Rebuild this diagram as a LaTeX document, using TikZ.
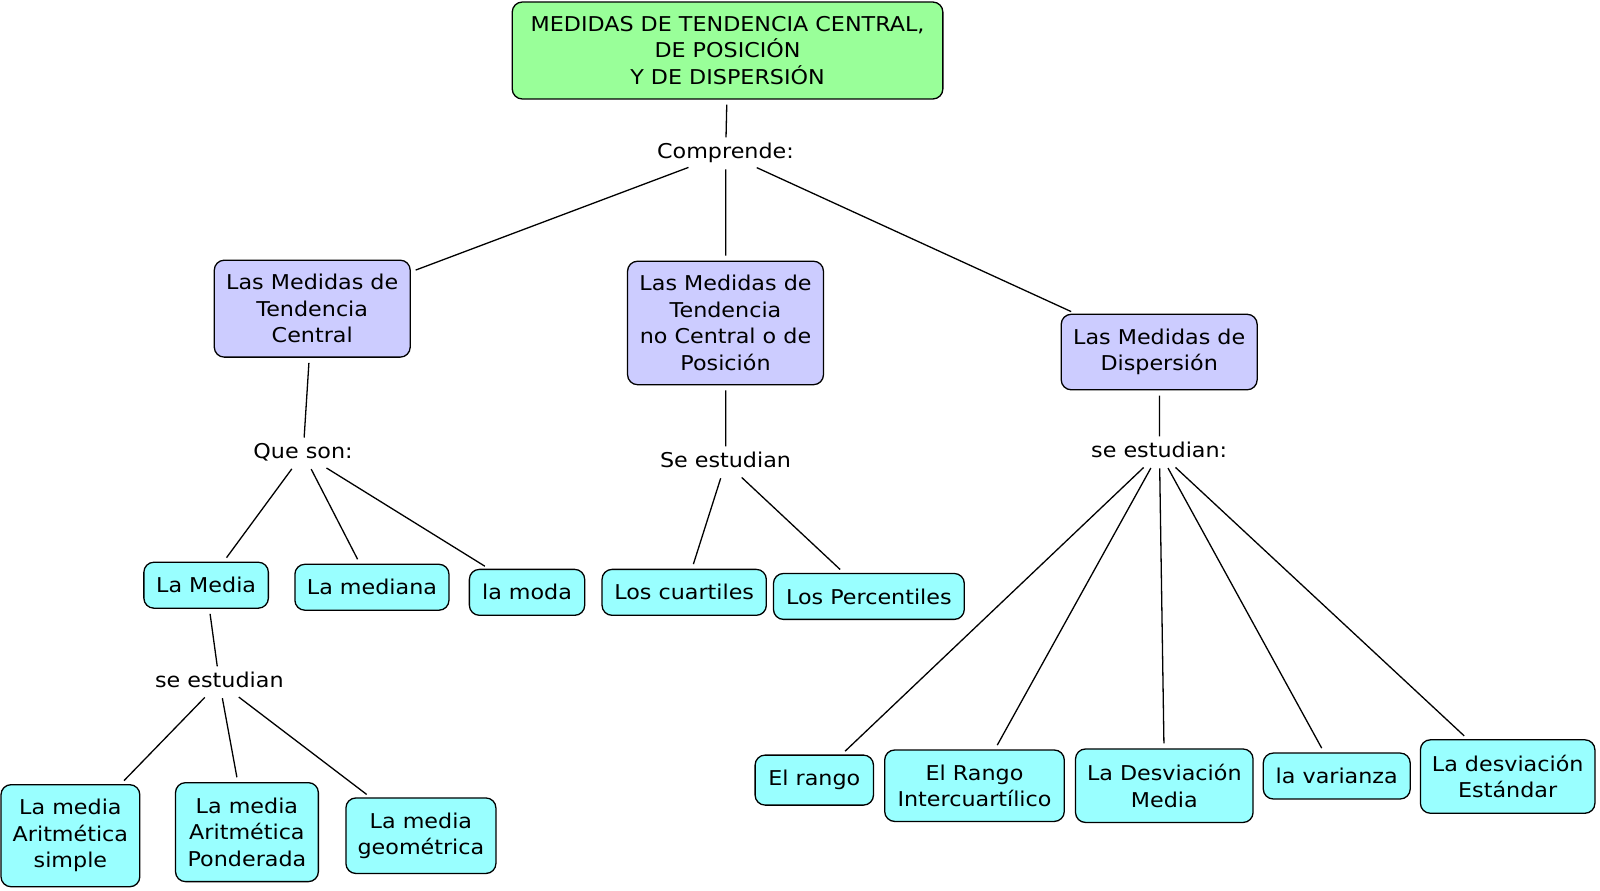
\documentclass[tikz,border=0pt]{standalone}
\usepackage{fontspec}
\setmainfont{DejaVu Sans}[FakeStretch=1.09]
\begin{document}
\begin{tikzpicture}[x=1pt,y=-1pt,scale=1.0204,
  every node/.style={font=\fontsize{20}{26}\selectfont, align=center, transform shape},
  cbox/.style={draw=black, line width=1.3pt, rounded corners=10pt, inner sep=2pt},
  gbox/.style={cbox, fill=grn},
  lbox/.style={cbox, fill=lav},
  cybox/.style={cbox, fill=cyn},
  lbl/.style={inner sep=3pt, text height=15pt, text depth=4pt},
  conn/.style={line width=1.3pt, shorten <=3pt, shorten >=5pt},
  inl/.style={line width=1.3pt, shorten <=5pt, shorten >=3pt}]
\definecolor{grn}{HTML}{99FF99}
\definecolor{lav}{HTML}{CCCCFF}
\definecolor{cyn}{HTML}{99FFFF}
\useasboundingbox[fill=white] (0,0) rectangle (1568,873.17);

\node[gbox, minimum width=422pt, minimum height=95pt] (top) at (713,49.5) {MEDIDAS DE TENDENCIA CENTRAL,\\DE POSICIÓN\\Y DE DISPERSIÓN};
\node[lbl] (comp) at (711,150.3) {Comprende:};

\node[lbox, minimum width=192pt, minimum height=95pt] (A) at (306,302.5) {Las Medidas de\\Tendencia\\Central};
\node[lbox, minimum width=192pt, minimum height=121pt] (B) at (711,316.5) {Las Medidas de\\Tendencia\\no Central o de\\Posición};
\node[lbox, minimum width=192pt, minimum height=74pt] (C) at (1136,345) {Las Medidas de\\Dispersión};

\node[lbl] (que) at (297,444.3) {Que son:};
\node[lbl] (seB) at (711,453.1) {Se estudian};
\node[lbl] (seC) at (1136,443.3) {se estudian:};

\node[cybox, minimum width=122pt, minimum height=45pt] (media) at (202,573.5) {La Media};
\node[cybox, minimum width=151pt, minimum height=45pt] (mediana) at (364.5,575.5) {La mediana};
\node[cybox, minimum width=113pt, minimum height=45pt] (moda) at (516.5,580.5) {la moda};
\node[cybox, minimum width=161pt, minimum height=45pt] (cuart) at (670.5,580.5) {Los cuartiles};
\node[cybox, minimum width=187pt, minimum height=45pt] (perc) at (851.5,584.5) {Los Percentiles};

\node[lbl] (seM) at (215,668.5) {se estudian};

\node[cybox, minimum width=136pt, minimum height=100pt] (simple) at (69,819) {La media\\Aritmética\\simple};
\node[cybox, minimum width=140pt, minimum height=97pt] (pond) at (242,815.5) {La media\\Aritmética\\Ponderada};
\node[cybox, minimum width=147pt, minimum height=74pt] (geom) at (412.5,819) {La media\\geométrica};

\node[cybox, minimum width=116pt, minimum height=49pt] (rango) at (798,764.5) {El rango};
\node[cybox, minimum width=176pt, minimum height=70pt] (ric) at (955,770) {El Rango\\Intercuartílico};
\node[cybox, minimum width=174pt, minimum height=72pt] (dm) at (1141,770) {La Desviación\\Media};
\node[cybox, minimum width=144pt, minimum height=45pt] (var) at (1310,760.5) {la varianza};
\node[cybox, minimum width=171pt, minimum height=72pt] (de) at (1477.5,761) {La desviación\\Estándar};

\draw[inl] (top) -- (comp);
\draw[conn] (comp) -- (A);
\draw[conn] (comp) -- (B);
\draw[conn] (comp) -- (C);

\draw[inl] (A) -- (que);
\draw[inl] (B) -- (seB);
\draw[inl] (C) -- (seC);

\draw[conn] (que) -- (media);
\draw[conn] (que) -- (mediana);
\draw[conn] (que) -- (moda);

\draw[conn] (seB) -- (cuart);
\draw[conn] (seB) -- (perc);

\draw[inl] (media) -- (seM);
\draw[conn] (seM) -- (simple);
\draw[conn] (seM) -- (pond);
\draw[conn] (seM) -- (geom);

\draw[conn] (seC) -- (rango);
\draw[conn] (seC) -- (ric);
\draw[conn] (seC) -- (dm);
\draw[conn] (seC) -- (var);
\draw[conn] (seC) -- (de);
\end{tikzpicture}
\end{document}
